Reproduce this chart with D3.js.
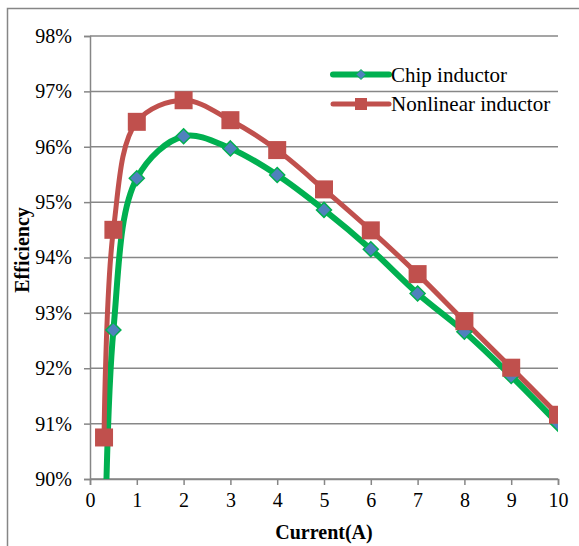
<!DOCTYPE html>
<html>
<head>
<meta charset="utf-8">
<script src="https://cdn.jsdelivr.net/npm/d3@7"></script>
<style>
  body { margin: 0; background: #fff; }
  svg { font-family: "Liberation Serif", "Times New Roman", serif; }
</style>
</head>
<body>
<svg id="chart" width="579" height="546"></svg>
<script>
const current = [0.3, 0.5, 1, 2, 3, 4, 5, 6, 7, 8, 9, 10];
const chipEff = [87.6, 92.69, 95.43, 96.19, 95.97, 95.49, 94.86, 94.15, 93.35, 92.66, 91.86, 91.0];
const nonlinearEff = [90.75, 94.5, 96.45, 96.84, 96.48, 95.94, 95.23, 94.49, 93.70, 92.85, 92.01, 91.16];
const xTicks = [0, 1, 2, 3, 4, 5, 6, 7, 8, 9, 10];
const yTicks = [90, 91, 92, 93, 94, 95, 96, 97, 98];
const seriesNames = ["Chip inductor", "Nonlinear inductor"];

const svg = d3.select("#chart");
const margin = { top: 36, right: 21, bottom: 67, left: 90 };
const width = 579 - margin.left - margin.right;
const height = 546 - margin.top - margin.bottom;

// outer chart border (runs off the right/bottom edge)
svg.append("rect")
  .attr("x", 7.5).attr("y", 8.5)
  .attr("width", 700).attr("height", 700)
  .attr("fill", "none")
  .attr("stroke", "#868686")
  .attr("stroke-width", 1.5);

const chart = svg.append("g")
  .attr("transform", `translate(${margin.left}, ${margin.top})`);

const x = d3.scaleLinear().domain([0, 10]).range([0, width]);
const y = d3.scaleLinear().domain([90, 98]).range([height, 0]);

chart.append("defs").append("clipPath").attr("id", "plot")
  .append("rect").attr("width", width).attr("height", height);

// gridlines
chart.append("g")
  .selectAll("line")
  .data(yTicks)
  .join("line")
  .attr("x1", 0).attr("x2", width)
  .attr("y1", d => y(d)).attr("y2", d => y(d))
  .attr("stroke", "#878787")
  .attr("stroke-width", 1.5);

const xAxis = d3.axisBottom(x).tickValues(xTicks).tickSize(6).tickPadding(8)
  .tickFormat(d3.format("d"));
const yAxis = d3.axisLeft(y).tickValues(yTicks).tickSize(6).tickPadding(12)
  .tickFormat(d => d + "%");

const gx = chart.append("g")
  .attr("transform", `translate(0, ${height})`)
  .call(xAxis);
const gy = chart.append("g").call(yAxis);

[gx, gy].forEach(g => {
  g.select(".domain").attr("stroke", "#868686").attr("stroke-width", 1.5);
  g.selectAll(".tick line").attr("stroke", "#868686").attr("stroke-width", 1.5);
  g.selectAll(".tick text")
    .attr("fill", "#000")
    .attr("font-size", 20)
    .attr("font-family", "Liberation Serif");
});

const chipData = current.map((c, i) => ({ x: c, y: chipEff[i] }));
const nonData = current.map((c, i) => ({ x: c, y: nonlinearEff[i] }));

const line = d3.line()
  .x(d => x(d.x))
  .y(d => y(d.y))
  .curve(d3.curveCatmullRom.alpha(0.5));

const plot = chart.append("g").attr("clip-path", "url(#plot)");

plot.append("path").datum(chipData)
  .attr("d", line)
  .attr("fill", "none")
  .attr("stroke", "#00B050")
  .attr("stroke-width", 6);

plot.append("path").datum(nonData)
  .attr("d", line)
  .attr("fill", "none")
  .attr("stroke", "#C0504D")
  .attr("stroke-width", 5);

const diamond = s => `M0,${-s} L${s},0 L0,${s} L${-s},0 Z`;

plot.append("g")
  .selectAll("path")
  .data(chipData)
  .join("path")
  .attr("transform", d => `translate(${x(d.x)}, ${y(d.y)})`)
  .attr("d", diamond(7.5))
  .attr("fill", "#4F81BD")
  .attr("stroke", "#00B050")
  .attr("stroke-width", 1.5);

plot.append("g")
  .selectAll("rect")
  .data(nonData)
  .join("rect")
  .attr("x", d => x(d.x) - 9)
  .attr("y", d => y(d.y) - 9)
  .attr("width", 18)
  .attr("height", 18)
  .attr("fill", "#C0504D");

// axis titles
chart.append("text")
  .attr("x", width / 2)
  .attr("y", height + 60)
  .attr("text-anchor", "middle")
  .attr("font-size", 20)
  .attr("font-weight", "bold")
  .text("Current(A)");

chart.append("text")
  .attr("transform", "rotate(-90)")
  .attr("x", -214)
  .attr("y", -61)
  .attr("text-anchor", "middle")
  .attr("font-size", 20)
  .attr("font-weight", "bold")
  .text("Efficiency");

// legend
const legend = svg.append("g").attr("transform", "translate(333, 74.5)");
seriesNames.forEach((name, i) => {
  const g = legend.append("g").attr("transform", `translate(0, ${i * 29.5})`);
  g.append("line")
    .attr("x1", 0).attr("x2", 56)
    .attr("stroke", i === 0 ? "#00B050" : "#C0504D")
    .attr("stroke-width", i === 0 ? 6 : 5)
    .attr("stroke-linecap", "round");
  if (i === 0) {
    g.append("path")
      .attr("transform", "translate(28, 0)")
      .attr("d", diamond(5))
      .attr("fill", "#4F81BD")
      .attr("stroke", "#00B050")
      .attr("stroke-width", 1);
  } else {
    g.append("rect")
      .attr("x", 22).attr("y", -6)
      .attr("width", 12).attr("height", 12)
      .attr("fill", "#C0504D");
  }
  g.append("text")
    .attr("x", 58)
    .attr("y", 7)
    .attr("font-size", 21)
    .text(name);
});
</script>
</body>
</html>
